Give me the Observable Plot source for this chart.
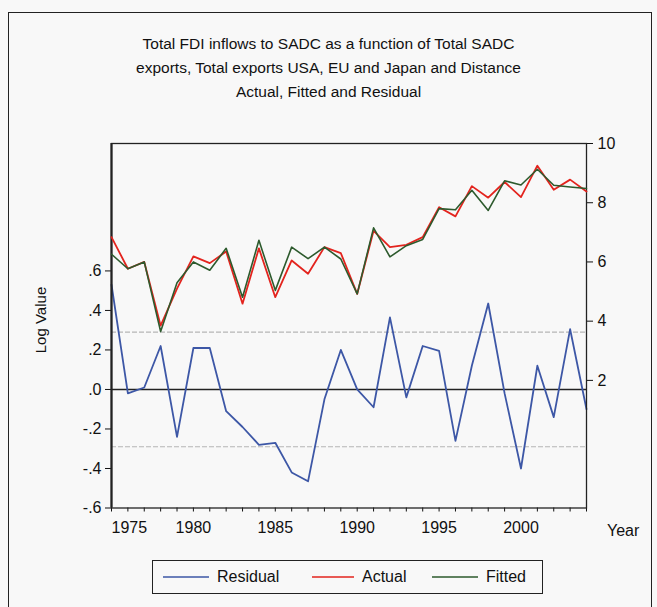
<!DOCTYPE html>
<html><head><meta charset="utf-8">
<script src="https://cdn.jsdelivr.net/npm/d3@7"></script>
<script src="https://cdn.jsdelivr.net/npm/@observablehq/plot@0.6"></script>
<style>
body{margin:0;background:#f8f8f8;font-family:"Liberation Sans",Arial,sans-serif;color:#111;}
#page{position:relative;width:657px;height:607px;overflow:hidden;}
#border{position:absolute;left:8px;top:12px;width:642px;height:640px;border:1.5px solid #222;}
#title{position:absolute;left:0;width:657px;top:32px;text-align:center;font-size:15.5px;line-height:24px;}
.layer{position:absolute;left:0;top:130px;}
#ylab{position:absolute;left:40px;top:320px;transform:translate(-50%,-50%) rotate(-90deg);font-size:15px;white-space:nowrap;}
#xlab{position:absolute;left:607px;top:522px;font-size:16px;}
#legend{position:absolute;left:152px;top:560px;width:391px;height:34px;border:1.5px solid #222;font-size:16px;box-sizing:border-box;}
.item{position:absolute;top:0;height:31px;display:flex;align-items:center;}
.item svg{margin-right:8px;}
</style></head>
<body>
<div id="page">
  <div id="border"></div>
  <div id="title">Total FDI inflows to SADC as a function of Total SADC<br>exports, Total exports USA, EU and Japan and Distance<br>Actual, Fitted and Residual</div>
  <div id="left" class="layer"></div>
  <div id="right" class="layer"></div>
  <div id="ylab">Log Value</div>
  <div id="xlab">Year</div>
  <div id="legend"></div>
</div>
<script>
const years = [1975,1976,1977,1978,1979,1980,1981,1982,1983,1984,1985,1986,1987,1988,1989,
               1990,1991,1992,1993,1994,1995,1996,1997,1998,1999,2000,2001,2002,2003,2004];
const residual = [0.53,-0.02,0.01,0.22,-0.24,0.21,0.21,-0.11,-0.19,-0.28,-0.27,-0.42,-0.465,-0.05,0.20,
                  0.00,-0.09,0.365,-0.04,0.22,0.195,-0.26,0.12,0.435,-0.02,-0.40,0.12,-0.14,0.305,-0.10];
const actual = [6.84,5.77,6.00,3.85,5.10,6.19,5.96,6.35,4.59,6.46,4.81,6.05,5.60,6.50,6.30,
                4.92,7.05,6.50,6.58,6.84,7.85,7.54,8.56,8.17,8.70,8.19,9.25,8.44,8.78,8.38];
const fitted = [6.26,5.77,6.00,3.65,5.30,6.00,5.72,6.46,4.81,6.73,5.04,6.50,6.11,6.50,6.10,
                4.92,7.15,6.17,6.55,6.76,7.80,7.76,8.42,7.74,8.74,8.60,9.13,8.59,8.53,8.48];
const residualBand = [0.29,-0.29];
const leftTicks = [-0.6,-0.4,-0.2,0,0.2,0.4,0.6];
const leftTickLabels = ["-.6","-.4","-.2",".0",".2",".4",".6"];
const rightTicks = [2,4,6,8,10];
const xLabelYears = [1975,1980,1985,1990,1995,2000];
const xTickLabels = ["1975","1980","1985","1990","1995","2000"];
const seriesNames = ["Residual","Actual","Fitted"];
const seriesColors = ["#3d57a6","#e3241e","#2d5a2d"];

const W = 657, H = 420;
const font = "'Liberation Sans', Arial, sans-serif";
const common = {
  width: W, height: H, marginLeft: 111, marginRight: 71, marginTop: 13, marginBottom: 42.5,
  style: {background: "transparent", fontFamily: font, fontSize: "16px", color: "#111"}
};
const rows = years.map((yr, i) => ({year: yr, residual: residual[i], actual: actual[i], fitted: fitted[i]}));
const leftLabel = new Map(leftTicks.map((t, i) => [t, leftTickLabels[i]]));
const xLabel = new Map(xLabelYears.map((t, i) => [t, xTickLabels[i]]));

const leftPlot = Plot.plot({
  ...common,
  x: {domain: [1975, 2004], axis: null},
  y: {domain: [-0.6, 1.245], axis: null},
  marks: [
    Plot.ruleY(residualBand, {stroke: "#b5b5b5", strokeWidth: 1.2, strokeDasharray: "5,2"}),
    Plot.ruleY([0], {stroke: "#222", strokeWidth: 1.5}),
    Plot.lineY(rows, {x: "year", y: "residual", stroke: seriesColors[0], strokeWidth: 1.8}),
    Plot.axisY(leftTicks, {anchor: "left", tickSize: 6, tickPadding: 4, fontSize: 16, tickFormat: d => leftLabel.get(d), label: null}),
    Plot.axisX(years, {anchor: "bottom", tickSize: 4, tickFormat: () => "", label: null}),
    Plot.text(xLabelYears.filter(d => d === 1975), {x: d => d, text: d => xLabel.get(d), frameAnchor: "bottom", dy: 25, textAnchor: "start", fontSize: 16}),
    Plot.text(xLabelYears.filter(d => d !== 1975), {x: d => d, text: d => xLabel.get(d), frameAnchor: "bottom", dy: 25, textAnchor: "middle", fontSize: 16}),
    Plot.frame({stroke: "#222", strokeWidth: 1.3}),
    Plot.ruleX([1975], {stroke: "#222", strokeWidth: 2.2})
  ]
});
document.getElementById("left").append(leftPlot);

const rightPlot = Plot.plot({
  ...common,
  x: {domain: [1975, 2004], axis: null},
  y: {domain: [-2.31, 10], axis: null},
  marks: [
    Plot.lineY(rows, {x: "year", y: "actual", stroke: seriesColors[1], strokeWidth: 1.8}),
    Plot.lineY(rows, {x: "year", y: "fitted", stroke: seriesColors[2], strokeWidth: 1.6}),
    Plot.axisY(rightTicks, {anchor: "right", tickSize: 6, tickPadding: 5, fontSize: 16, label: null})
  ]
});
document.getElementById("right").append(rightPlot);

const legend = document.getElementById("legend");
const itemLeft = [10, 159, 279];
const swatchW = [46, 42, 46];
seriesNames.forEach((name, i) => {
  const item = document.createElement("div");
  item.className = "item";
  item.style.left = itemLeft[i] + "px";
  item.innerHTML = `<svg width="${swatchW[i]}" height="10"><line x1="0" x2="${swatchW[i]}" y1="5" y2="5" stroke="${seriesColors[i]}" stroke-width="1.5"/></svg><span>${name}</span>`;
  legend.append(item);
});
</script>
</body></html>
